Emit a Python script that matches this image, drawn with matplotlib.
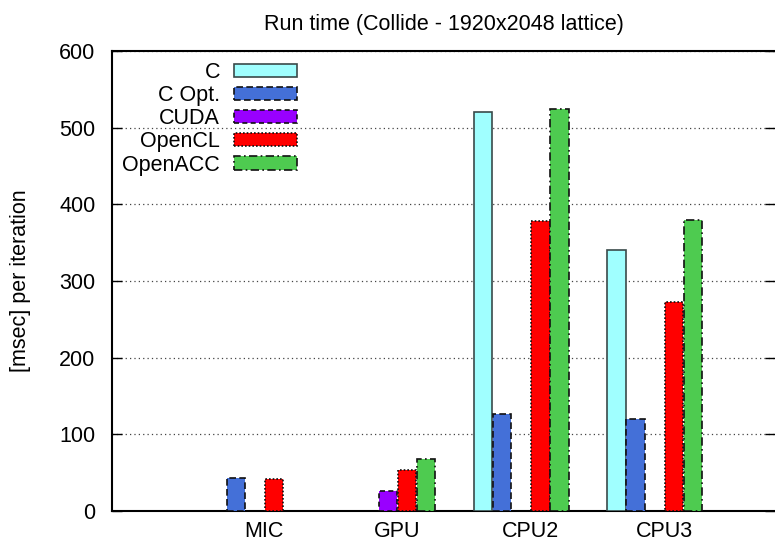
import numpy as np
import matplotlib
matplotlib.use("Agg")
import matplotlib.pyplot as plt

plt.rcParams['font.family'] = ['Liberation Sans', 'DejaVu Sans']

categories = ["MIC", "GPU", "CPU2", "CPU3"]
series_names = ["C", "C Opt.", "CUDA", "OpenCL", "OpenACC"]
c_vals = [np.nan, np.nan, 521, 340]
c_opt_vals = [43, np.nan, 126, 120]
cuda_vals = [np.nan, 26, np.nan, np.nan]
opencl_vals = [42, 53, 378, 272]
openacc_vals = [np.nan, 68, 525, 379]
y_ticks = [0, 100, 200, 300, 400, 500, 600]

series = [c_vals, c_opt_vals, cuda_vals, opencl_vals, openacc_vals]
colors = ["#a0ffff", "#4470d8", "#9900ff", "#ff0000", "#4ecb50"]
edgecolors = ["#3a4a4a", "#111111", "#111111", "#111111", "#111111"]
linestyles = ["-", (0, (4, 2)), (0, (3, 2)), (0, (1, 1.2)), (0, (5, 2, 1, 2))]

FS = 15.5
fig = plt.figure(figsize=(7.75, 5.44), dpi=100)
ax = fig.add_axes([112/775, 33/544, 1 - 112/775, 460/544])

group_step = 7
nb = len(series)
x0 = np.arange(len(categories)) * group_step
for j, (vals, name) in enumerate(zip(series, series_names)):
    ax.bar(x0 + j, vals, width=0.96, color=colors[j], edgecolor=edgecolors[j],
           linewidth=1.2, linestyle=linestyles[j], label=name, zorder=3)

ax.set_xticks(x0 + (nb - 1) / 2 + 0.5)
ax.set_xticklabels(categories)
ax.set_xlim(-5.5, 29.32)
ax.set_ylim(0, 600)
ax.set_yticks(y_ticks)
ax.tick_params(axis='x', length=0, labelsize=FS, pad=7)
ax.tick_params(axis='y', direction='in', length=7, width=1, labelsize=FS, pad=12,
               right=True)
ax.yaxis.grid(True, linestyle=(0, (1, 2.5)), color='#444444', linewidth=0.9, zorder=0)
ax.set_axisbelow(True)
for s in ['left', 'top', 'bottom']:
    ax.spines[s].set_linewidth(1.5)
ax.spines['right'].set_visible(False)

ax.set_ylabel("[msec] per iteration", fontsize=FS, labelpad=20)
ax.set_title("Run time (Collide - 1920x2048 lattice)", fontsize=FS, pad=15)

leg = ax.legend(loc='upper right', bbox_to_anchor=((297 - 112) / 663, 0.976), frameon=False,
                markerfirst=False, fontsize=FS, handlelength=2.93, handleheight=0.56,
                handletextpad=0.65, labelspacing=0.1, borderpad=0.0, borderaxespad=0.0)
for t in leg.get_texts():
    t.set_ha('right')
leg._legend_box.align = 'right'

fig.savefig("out.png", dpi=100)
